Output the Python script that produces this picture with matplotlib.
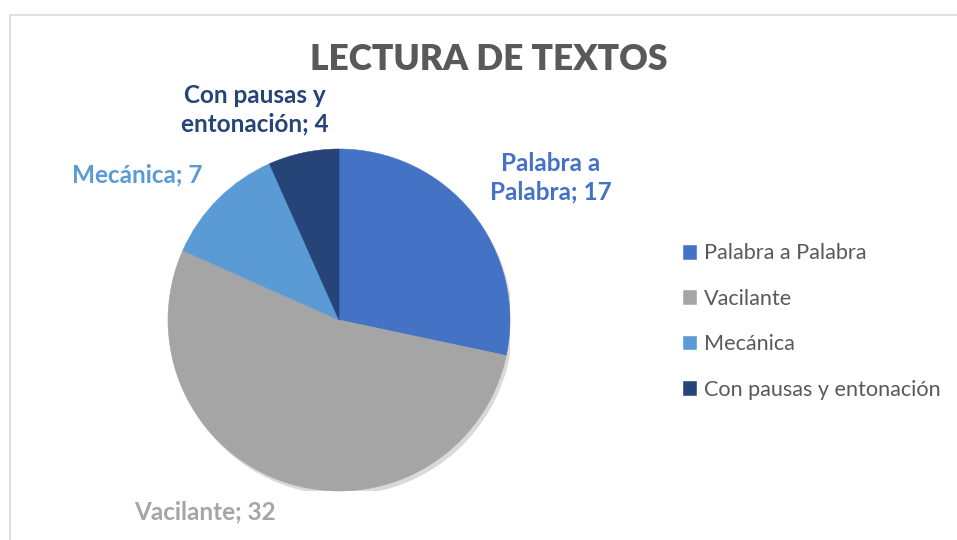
import matplotlib
matplotlib.use("Agg")
import matplotlib.pyplot as plt
import matplotlib.patheffects as pe
from matplotlib.patches import Rectangle, Circle

plt.rcParams['font.family'] = ['Lato', 'DejaVu Sans']

# data
categories = ['Palabra a Palabra', 'Vacilante', 'Mecánica', 'Con pausas y entonación']
values = [17, 32, 7, 4]
label_texts = ['Palabra a\nPalabra; 17', 'Vacilante; 32', 'Mecánica; 7', 'Con pausas y\nentonación; 4']
colors = ['#4472C4', '#A5A5A5', '#5B9BD5', '#264478']

W, H = 957, 540
fig = plt.figure(figsize=(W / 100, H / 100), dpi=100)

# chart border (light gray, cut off at right/bottom)
fig.patches.append(Rectangle((10 / W, -0.05), 1.1, 1 - 15 / H + 0.05, transform=fig.transFigure,
                             fill=False, edgecolor='#D9D9D9', linewidth=1.2))

# pie axes: centre (339, 320) px, radius 171 px
cx, cy, r = 339, 320, 171
ax = fig.add_axes([(cx - r) / W, (H - cy - r) / H, 2 * r / W, 2 * r / H])
# soft shadow behind the whole pie
shadow = Circle((0, 0), 1, facecolor='white', edgecolor='none', zorder=0)
shadow.set_path_effects([pe.SimplePatchShadow(offset=(2, -3), shadow_rgbFace='#000000', alpha=0.15)])
ax.add_patch(shadow)
wedges, _ = ax.pie(values, colors=colors, startangle=90, counterclock=False,
                   radius=1, wedgeprops=dict(linewidth=0))
for w in wedges:
    w.set_edgecolor(w.get_facecolor())
    w.set_linewidth(0.4)
ax.set_xlim(-1, 1)
ax.set_ylim(-1, 1)
ax.set_aspect('equal')
ax.axis('off')

# title
fig.text(489 / W, 1 - 60 / H, 'LECTURA DE TEXTOS', ha='center', va='center',
         fontsize=25.5, fontweight='heavy', color='#595959')

# data labels
label_pos = [(551, 178), (205, 512), (137, 175), (255, 110)]
for (x, y), t, c in zip(label_pos, label_texts, colors):
    fig.text(x / W, 1 - y / H, t, ha='center', va='center', fontsize=17.5,
             fontweight='bold', color=c, linespacing=1.3)

# legend
leg = fig.legend(wedges, categories, loc='upper left', bbox_to_anchor=(663 / W, 1 - 224 / H),
                 frameon=False, fontsize=15.6, labelcolor='#595959', handlelength=0.6,
                 handleheight=0.6, handletextpad=0.4, labelspacing=1.17)

fig.savefig('out.png', dpi=100)
